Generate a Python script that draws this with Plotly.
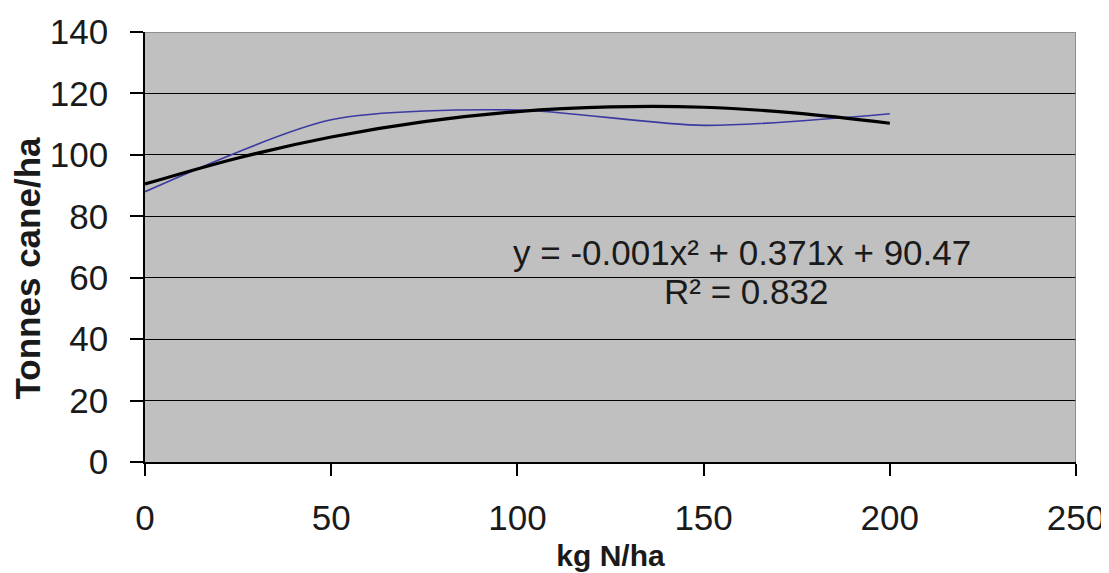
import plotly.graph_objects as go

# Observed data (blue, smoothed line)
n_rate = [0, 50, 100, 150, 200]
yield_obs = [88.0, 111.4, 114.6, 109.6, 113.4]

# Polynomial trendline values
trend_x = [0, 25, 50, 75, 100, 125, 150, 175, 200]
trend_y = [90.5, 99.0, 105.8, 110.8, 114.1, 115.6, 115.5, 113.6, 110.3]

x_ticks = [0, 50, 100, 150, 200, 250]
y_ticks = [0, 20, 40, 60, 80, 100, 120, 140]

eq_text = "y = -0.001x² + 0.371x + 90.47"
r2_text = "R² = 0.832"
x_title = "<b>kg N/ha</b>"
y_title = "<b>Tonnes cane/ha</b>"

FONT = "Liberation Sans, Arial, sans-serif"
TXT = "#1a1a1a"

fig = go.Figure()
fig.add_trace(go.Scatter(
    x=n_rate, y=yield_obs, mode="lines",
    line=dict(color="#3a3aa0", width=1.6, shape="spline", smoothing=0.75),
    showlegend=False, hoverinfo="skip"))
fig.add_trace(go.Scatter(
    x=trend_x, y=trend_y, mode="lines",
    line=dict(color="#000000", width=3.2, shape="spline", smoothing=1.0),
    showlegend=False, hoverinfo="skip"))

fig.add_annotation(x=160.3, y=68.2, xref="x", yref="y", text=eq_text,
                   showarrow=False, xanchor="center", yanchor="middle",
                   font=dict(family=FONT, size=35, color=TXT))
fig.add_annotation(x=161.5, y=55.4, xref="x", yref="y", text=r2_text,
                   showarrow=False, xanchor="center", yanchor="middle",
                   font=dict(family=FONT, size=35, color=TXT))
# y-axis title
fig.add_annotation(x=-0.1262, y=0.449, xref="paper", yref="paper",
                   text=y_title, textangle=-90, showarrow=False,
                   xanchor="center", yanchor="middle",
                   font=dict(family=FONT, size=35, color=TXT))

# gray plot-area border on top and right (Excel style)
fig.add_shape(type="line", xref="x", yref="y", x0=0, x1=250, y0=140, y1=140,
              line=dict(color="#808080", width=1.6), layer="above")
fig.add_shape(type="line", xref="x", yref="y", x0=250, x1=250, y0=0, y1=140,
              line=dict(color="#808080", width=1.6), layer="above")

# page body has an 8px margin, so the figure is drawn from (8, 8)
fig.update_layout(
    width=1101, height=565,
    margin=dict(l=137, r=33, t=24, b=111),
    paper_bgcolor="white", plot_bgcolor="#c0c0c0",
    font=dict(family=FONT, size=35, color=TXT),
    xaxis=dict(range=[0, 250], tickvals=x_ticks, showgrid=False,
               automargin=False,
               showline=True, linecolor="black", linewidth=1.5,
               ticks="outside", ticklen=12, tickcolor="black", tickwidth=1.5,
               ticklabelstandoff=12, zeroline=False,
               title=dict(text=x_title, standoff=9,
                          font=dict(family=FONT, size=30, color=TXT))),
    yaxis=dict(range=[0, 140], tickvals=y_ticks, showgrid=True,
               automargin=False,
               gridcolor="black", gridwidth=1.3,
               showline=True, linecolor="black", linewidth=1.5,
               ticks="outside", ticklen=13, tickcolor="black", tickwidth=1.5,
               ticklabelstandoff=15, zeroline=False),
)

fig.write_html("out.html")
